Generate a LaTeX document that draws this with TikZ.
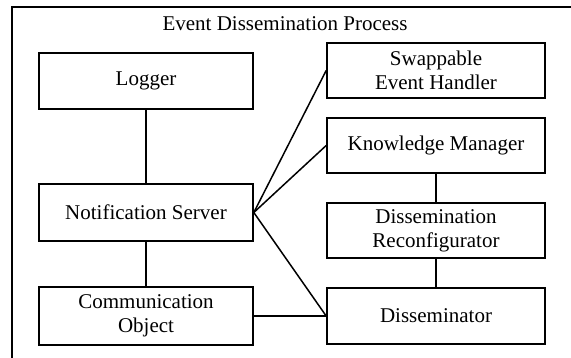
\documentclass[tikz,border=0pt]{standalone}
\usepackage{fontspec}
\setmainfont{Liberation Serif}
\begin{document}
\begin{tikzpicture}[x=1pt,y=-1pt,
  box/.style={draw,line width=1.6pt,rectangle,inner sep=0pt,align=center,
    font=\fontsize{21}{24}\selectfont},
  lbox/.style={box,minimum width=214pt},
  rbox/.style={box,minimum width=218pt},
  link/.style={line width=1.5pt}]
\useasboundingbox (0,0) rectangle (571,358);
\draw[line width=1.5pt] (12,358) -- (12,7) -- (571,7);
\node[font=\fontsize{21}{24}\selectfont] (title) at (285,24) {Event Dissemination Process};
\node[lbox,minimum height=56pt] (log) at (146,81) {Logger};
\node[lbox,minimum height=57pt] (ns) at (146,212.5) {Notification Server};
\node[lbox,minimum height=58pt] (co) at (146,316) {Communication\\Object};
\node[rbox,minimum height=55pt] (seh) at (436,70.5) {Swappable\\Event Handler};
\node[rbox,minimum height=55pt] (km) at (436,145.5) {Knowledge Manager};
\node[rbox,minimum height=55pt] (dr) at (436,230.5) {Dissemination\\Reconfigurator};
\node[rbox,minimum height=56pt] (ds) at (436,316) {Disseminator};
\draw[link] (log.south) -- (ns.north);
\draw[link] (ns.south) -- (co.north);
\draw[link] (km.south) -- (dr.north);
\draw[link] (dr.south) -- (ds.north);
\draw[link] (ns.east) -- (seh.west);
\draw[link] (ns.east) -- (km.west);
\draw[link] (ns.east) -- (ds.west);
\draw[link] (co.east) -- (ds.west);
\end{tikzpicture}
\end{document}
